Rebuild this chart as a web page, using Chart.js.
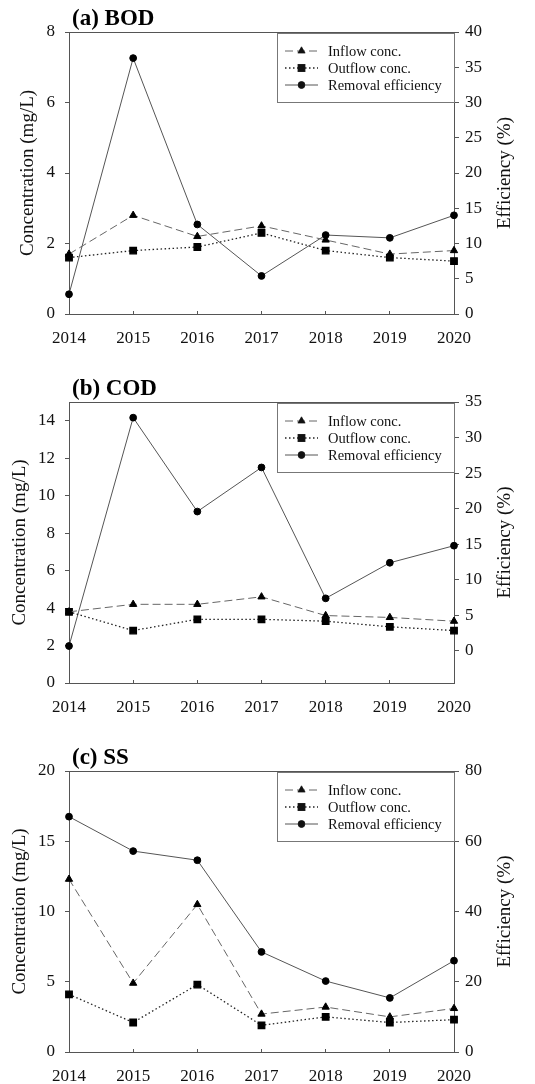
<!DOCTYPE html>
<html>
<head>
<meta charset="utf-8">
<script src="https://cdn.jsdelivr.net/npm/chart.js@4"></script>
<style>
  body { margin: 0; background: #fff; }
  #wrap { position: relative; width: 535px; height: 1084px; }
  .panel { position: absolute; left: 0; width: 535px; }
</style>
</head>
<body>
<div id="wrap">
  <div class="panel" style="top:0px;height:350px"><canvas id="bod"></canvas></div>
  <div class="panel" style="top:350px;height:365px"><canvas id="cod"></canvas></div>
  <div class="panel" style="top:715px;height:369px"><canvas id="ss"></canvas></div>
</div>
<script>
"use strict";

const years = ["2014", "2015", "2016", "2017", "2018", "2019", "2020"]

// (a) BOD
const bod_inflow = [1.7, 2.8, 2.2, 2.5, 2.1, 1.7, 1.8]
const bod_outflow = [1.6, 1.8, 1.9, 2.3, 1.8, 1.6, 1.5]
const bod_removal = [2.8, 36.3, 12.7, 5.4, 11.2, 10.8, 14.0]
const bod_conc_ticks = [0, 2, 4, 6, 8]
const bod_eff_ticks = [0, 5, 10, 15, 20, 25, 30, 35, 40]

// (b) COD
const cod_inflow = [3.8, 4.2, 4.2, 4.6, 3.6, 3.5, 3.3]
const cod_outflow = [3.8, 2.8, 3.4, 3.4, 3.3, 3.0, 2.8]
const cod_removal = [0.7, 32.8, 19.6, 25.8, 7.4, 12.4, 14.8]
const cod_conc_ticks = [0, 2, 4, 6, 8, 10, 12, 14]
const cod_eff_ticks = [0, 5, 10, 15, 20, 25, 30, 35]

// (c) SS
const ss_inflow = [12.3, 4.9, 10.5, 2.7, 3.2, 2.5, 3.1]
const ss_outflow = [4.1, 2.1, 4.8, 1.9, 2.5, 2.1, 2.3]
const ss_removal = [67.0, 57.2, 54.6, 28.5, 20.2, 15.4, 26.0]
const ss_conc_ticks = [0, 5, 10, 15, 20]
const ss_eff_ticks = [0, 20, 40, 60, 80]

const serif = "'Liberation Serif', 'Times New Roman', serif"
Chart.defaults.font.family = serif
Chart.defaults.color = "#111"

const axis_col = "#555"

// title text above the plot + frame top line + boxed legend + right axis title
const panelDeco = {
    id: "panelDeco",
    afterDraw(chart, args, opts) {
        const ctx = chart.ctx
        const a = chart.chartArea
        ctx.save()
        // top frame line
        ctx.strokeStyle = axis_col
        ctx.lineWidth = 1
        ctx.beginPath()
        ctx.moveTo(a.left, a.top + 0.5)
        ctx.lineTo(a.right, a.top + 0.5)
        ctx.stroke()

        // panel title
        ctx.fillStyle = "#000"
        ctx.font = "bold 23px " + serif
        ctx.textBaseline = "alphabetic"
        ctx.textAlign = "left"
        ctx.fillText(opts.title, a.left + 3, a.top - 7)

        // right axis title, reads bottom to top like the left one
        ctx.save()
        ctx.translate(505, (a.top + a.bottom) / 2)
        ctx.rotate(-Math.PI / 2)
        ctx.font = "19px " + serif
        ctx.fillStyle = "#111"
        ctx.textAlign = "center"
        ctx.textBaseline = "middle"
        ctx.fillText("Efficiency (%)", 0, 0)
        ctx.restore()

        // legend box
        const bx = a.right - 177, by = a.top + 1
        ctx.strokeStyle = "#777"
        ctx.strokeRect(bx + 0.5, by + 0.5, 177, 69)
        ctx.font = "14.5px " + serif
        ctx.textBaseline = "middle"
        ctx.textAlign = "left"
        chart.data.datasets.forEach((ds, i) => {
            const y = by + 18 + i * 17
            ctx.strokeStyle = ds.borderColor
            ctx.lineWidth = ds.borderWidth
            ctx.setLineDash(ds.borderDash || [])
            ctx.beginPath()
            ctx.moveTo(bx + 8, y)
            ctx.lineTo(bx + 41, y)
            ctx.stroke()
            ctx.setLineDash([])
            Chart.helpers.drawPoint(ctx, {
                pointStyle: ds.pointStyle,
                radius: ds.pointRadius,
                rotation: 0,
                borderWidth: 1
            }, bx + 24.5, y)
            ctx.fillStyle = "#111"
            ctx.fill()
            ctx.fillText(ds.label, bx + 51, y + 1)
        })
        ctx.restore()
    }
}

function make_panel(id, title, inflow, outflow, removal, conc_ticks, conc_max, eff_ticks, eff_min, eff_max, top, bottom_h, left_title_pad) {
    const data = {
        labels: years,
        datasets: [
            {
                label: "Inflow conc.",
                data: inflow,
                yAxisID: "y",
                borderColor: "#666",
                borderWidth: 1,
                borderDash: [8, 4],
                pointStyle: "triangle",
                pointRadius: 4.2,
                pointBackgroundColor: "#000",
                pointBorderColor: "#000",
                tension: 0
            },
            {
                label: "Outflow conc.",
                data: outflow,
                yAxisID: "y",
                borderColor: "#222",
                borderWidth: 1.3,
                borderDash: [1.5, 2.5],
                pointStyle: "rect",
                pointRadius: 4.6,
                pointBackgroundColor: "#000",
                pointBorderColor: "#000",
                tension: 0
            },
            {
                label: "Removal efficiency",
                data: removal,
                yAxisID: "y1",
                borderColor: "#555",
                borderWidth: 1,
                pointStyle: "circle",
                pointRadius: 3.4,
                pointBackgroundColor: "#000",
                pointBorderColor: "#000",
                tension: 0
            }
        ]
    }

    const config = {
        type: "line",
        data: data,
        plugins: [panelDeco],
        options: {
            responsive: true,
            maintainAspectRatio: false,
            animation: false,
            layout: { padding: { top: top, left: 0, right: 0, bottom: 0 } },
            plugins: {
                legend: { display: false },
                tooltip: { enabled: false },
                panelDeco: { title: title }
            },
            scales: {
                x: {
                    type: "category",
                    offset: false,
                    border: { color: axis_col, width: 1 },
                    grid: { drawOnChartArea: false, drawTicks: true, tickLength: -3, color: axis_col },
                    ticks: { font: { size: 17 }, color: "#111", padding: 17, maxRotation: 0 },
                    afterFit: s => { s.height = bottom_h }
                },
                y: {
                    position: "left",
                    min: 0,
                    max: conc_max,
                    border: { color: axis_col, width: 1 },
                    grid: { drawOnChartArea: false, drawTicks: true, tickLength: 4, color: axis_col },
                    ticks: { font: { size: 17 }, color: "#111", padding: 10 },
                    afterBuildTicks: s => { s.ticks = conc_ticks.map(v => ({ value: v })) },
                    title: {
                        display: true,
                        text: "Concentration (mg/L)",
                        font: { size: 19 },
                        color: "#111",
                        padding: { top: left_title_pad, bottom: 0 }
                    },
                    afterFit: s => { s.width = 69 }
                },
                y1: {
                    position: "right",
                    min: eff_min,
                    max: eff_max,
                    border: { color: axis_col, width: 1 },
                    grid: { drawOnChartArea: false, drawTicks: true, tickLength: 5, color: axis_col },
                    ticks: { font: { size: 17 }, color: "#111", padding: 6 },
                    afterBuildTicks: s => { s.ticks = eff_ticks.map(v => ({ value: v })) },
                    afterFit: s => { s.width = 81 }
                }
            }
        }
    }

    return new Chart(document.getElementById(id), config)
}

make_panel("bod", "(a) BOD", bod_inflow, bod_outflow, bod_removal, bod_conc_ticks, 8, bod_eff_ticks, 0, 40, 32, 36, 17)
make_panel("cod", "(b) COD", cod_inflow, cod_outflow, cod_removal, cod_conc_ticks, 15, cod_eff_ticks, -4.5, 35, 52, 32, 8.6)
make_panel("ss", "(c) SS", ss_inflow, ss_outflow, ss_removal, ss_conc_ticks, 20, ss_eff_ticks, 0, 80, 56, 32, 8.6)
</script>
</body>
</html>
